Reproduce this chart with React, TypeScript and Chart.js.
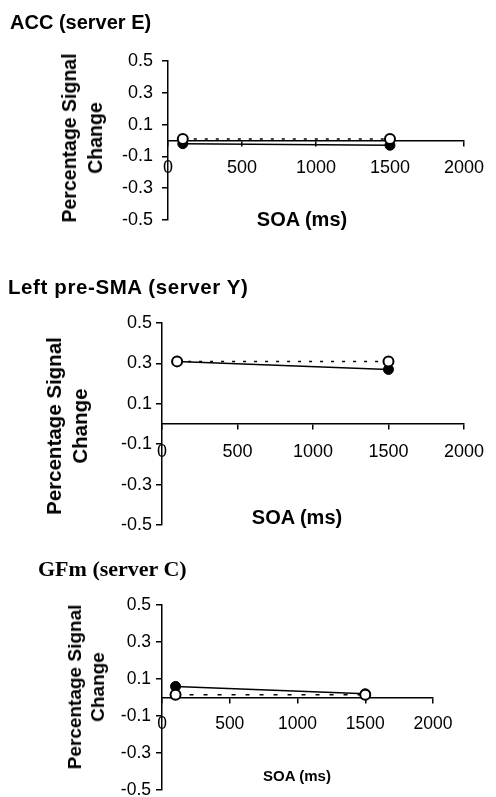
import React, { useEffect, useRef } from "react";
import { Chart, registerables } from "chart.js";

Chart.register(...registerables);

// ---- data ----
const soaValues = [100, 1500];
const xTickValues = [0, 500, 1000, 1500, 2000];
const yTickValues = [-0.5, -0.3, -0.1, 0.1, 0.3, 0.5];
const panelTitles = ["ACC (server E)", "Left pre-SMA (server Y)", "GFm (server C)"];
const yAxisTitleLines = ["Percentage Signal", "Change"];
const xAxisTitle = "SOA (ms)";

const accFilled = [-0.02, -0.03];
const accOpen = [0.01, 0.01];
const preSmaFilled = [0.31, 0.27];
const preSmaOpen = [0.31, 0.31];
const gfmFilled = [0.06, 0.02];
const gfmOpen = [0.015, 0.015];

const SANS = '"Liberation Sans", Arial, Helvetica, sans-serif';
const SERIF = '"Liberation Serif", "Times New Roman", serif';

type PanelLayout = {
  canvasTop: number;
  canvasHeight: number;
  area: { left: number; right: number; top: number; bottom: number };
  tickSize: number;
  yTickPad: number;
  xTickPad: number;
  dash: number[];
};

type PanelProps = {
  layout: PanelLayout;
  filled: number[];
  open: number[];
};

function Panel({ layout, filled, open }: PanelProps) {
  const ref = useRef<HTMLCanvasElement | null>(null);
  useEffect(() => {
    if (!ref.current) return;
    const W = 496;
    const H = layout.canvasHeight;
    const a = layout.area;
    const tickFont = { family: SANS, size: layout.tickSize, weight: "normal" as const };
    const chart = new Chart(ref.current, {
      type: "line",
      data: {
        datasets: [
          {
            label: "open",
            data: soaValues.map((x, i) => ({ x, y: open[i] })),
            borderColor: "#000",
            borderWidth: 1.5,
            borderDash: layout.dash,
            pointRadius: 5,
            pointBackgroundColor: "#fff",
            pointBorderColor: "#000",
            pointBorderWidth: 2,
            fill: false,
            tension: 0,
          },
          {
            label: "filled",
            data: soaValues.map((x, i) => ({ x, y: filled[i] })),
            borderColor: "#000",
            borderWidth: 1.5,
            pointRadius: 5,
            pointBackgroundColor: "#000",
            pointBorderColor: "#000",
            pointBorderWidth: 1,
            fill: false,
            tension: 0,
          },
        ],
      },
      options: {
        animation: false,
        responsive: false,
        maintainAspectRatio: false,
        devicePixelRatio: 1,
        layout: {
          padding: { left: 0, top: a.top, right: W - a.right, bottom: H - a.bottom },
        },
        plugins: {
          legend: { display: false },
          tooltip: { enabled: false },
          title: { display: false },
        },
        scales: {
          x: {
            type: "linear",
            position: { y: 0 },
            min: 0,
            max: 2000,
            afterBuildTicks: (s: any) => {
              s.ticks = xTickValues.map((v) => ({ value: v }));
            },
            ticks: {
              font: tickFont,
              color: "#000",
              padding: layout.xTickPad,
              maxRotation: 0,
              autoSkip: false,
              callback: (v: any) => String(v),
            },
            grid: {
              drawOnChartArea: false,
              drawTicks: true,
              tickLength: 5,
              color: "#000",
              lineWidth: 1.5,
            },
            border: { display: true, color: "#000", width: 1.5 },
          },
          y: {
            type: "linear",
            position: "left",
            min: -0.5,
            max: 0.5,
            afterBuildTicks: (s: any) => {
              s.ticks = yTickValues.map((v) => ({ value: v }));
            },
            afterFit: (s: any) => {
              s.width = a.left;
            },
            ticks: {
              font: tickFont,
              color: "#000",
              padding: layout.yTickPad,
              autoSkip: false,
              callback: (v: any) => Number(v).toFixed(1),
            },
            grid: {
              drawOnChartArea: false,
              drawTicks: true,
              tickLength: 6,
              color: "#000",
              lineWidth: 1.5,
            },
            border: { display: true, color: "#000", width: 1.5 },
          },
        },
      },
    } as any);
    return () => chart.destroy();
  }, [layout, filled, open]);

  return (
    <canvas
      ref={ref}
      width={496}
      height={layout.canvasHeight}
      style={{
        position: "absolute",
        left: 0,
        top: layout.canvasTop,
        width: 496,
        height: layout.canvasHeight,
      }}
    />
  );
}

const layouts: PanelLayout[] = [
  {
    canvasTop: 0,
    canvasHeight: 260,
    area: { left: 168, right: 473, top: 61, bottom: 220 },
    tickSize: 18,
    yTickPad: 9,
    xTickPad: 12,
    dash: [3, 8],
  },
  {
    canvasTop: 260,
    canvasHeight: 280,
    area: { left: 162, right: 470, top: 63, bottom: 265 },
    tickSize: 18,
    yTickPad: 4,
    xTickPad: 12,
    dash: [3, 8],
  },
  {
    canvasTop: 540,
    canvasHeight: 290,
    area: { left: 162, right: 433, top: 65, bottom: 250 },
    tickSize: 17.5,
    yTickPad: 5,
    xTickPad: 11,
    dash: [4, 10],
  },
];

const abs = (style: React.CSSProperties): React.CSSProperties => ({
  position: "absolute",
  whiteSpace: "nowrap",
  color: "#000",
  ...style,
});

function YTitle({ cx, cy, size, lh }: { cx: number; cy: number; size: number; lh: number }) {
  return (
    <div
      style={abs({
        left: cx,
        top: cy,
        transform: "translate(-50%, -50%) rotate(-90deg)",
        fontFamily: SANS,
        fontWeight: "bold",
        fontSize: size,
        lineHeight: `${lh}px`,
        textAlign: "center",
      })}
    >
      {yAxisTitleLines[0]}
      <br />
      {yAxisTitleLines[1]}
    </div>
  );
}

function XTitle({ cx, cy, size }: { cx: number; cy: number; size: number }) {
  return (
    <div
      style={abs({
        left: cx,
        top: cy,
        transform: "translate(-50%, -50%)",
        fontFamily: SANS,
        fontWeight: "bold",
        fontSize: size,
        lineHeight: "24px",
      })}
    >
      {xAxisTitle}
    </div>
  );
}

export default function App() {
  return (
    <div
      style={{
        position: "absolute",
        left: 0,
        top: 0,
        width: 496,
        height: 797,
        overflow: "hidden",
        background: "#fff",
      }}
    >
      <Panel layout={layouts[0]} filled={accFilled} open={accOpen} />
      <Panel layout={layouts[1]} filled={preSmaFilled} open={preSmaOpen} />
      <Panel layout={layouts[2]} filled={gfmFilled} open={gfmOpen} />

      <div style={abs({ left: 10, top: 10, fontFamily: SANS, fontWeight: "bold", fontSize: 20, lineHeight: "24px" })}>
        {panelTitles[0]}
      </div>
      <div
        style={abs({
          left: 8,
          top: 275,
          fontFamily: SANS,
          fontWeight: "bold",
          fontSize: 20.5,
          letterSpacing: "0.6px",
          lineHeight: "24px",
        })}
      >
        {panelTitles[1]}
      </div>
      <div style={abs({ left: 38, top: 557, fontFamily: SERIF, fontWeight: "bold", fontSize: 22, lineHeight: "24px" })}>
        {panelTitles[2]}
      </div>

      <YTitle cx={81.5} cy={138} size={19.5} lh={26} />
      <YTitle cx={67} cy={426} size={20.5} lh={26} />
      <YTitle cx={86} cy={687} size={19} lh={23} />

      <XTitle cx={302} cy={219} size={20} />
      <XTitle cx={297} cy={517} size={20} />
      <XTitle cx={297} cy={776} size={15} />
    </div>
  );
}
